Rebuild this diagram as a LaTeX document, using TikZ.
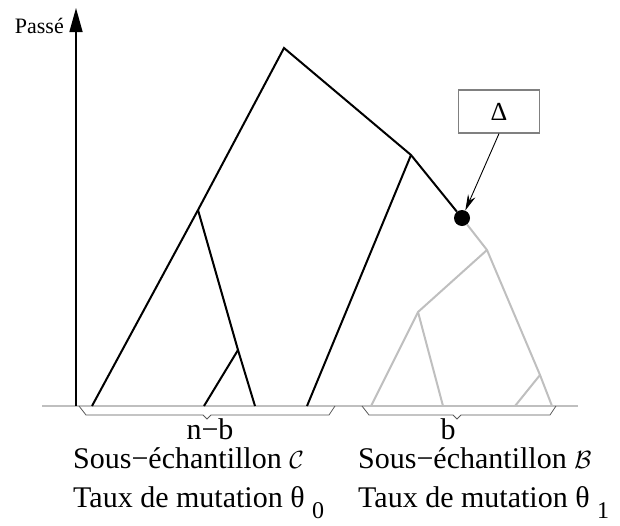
\documentclass[tikz,border=0pt]{standalone}
\usepackage{fontspec}
\setmainfont{Liberation Serif}
\usetikzlibrary{arrows.meta}
\newcommand{\bigtxt}{\fontsize{30}{30}\selectfont}
\newcommand{\rateidx}[1]{\raisebox{-11pt}{\fontsize{24}{24}\selectfont #1}}
\newcommand{\samplebrace}[3]{%
  \draw[sample] (#1,406) -- (#1+7,415) -- (#2-4,415) -- (#2,419)
    -- (#2+4,415) -- (#3-6,415) -- (#3,406);
}

\begin{document}
\begin{tikzpicture}[x=1pt,y=-1pt,
      every node/.style={inner sep=0pt},
      lineage/.style={line width=2pt},
      sublineage/.style={line width=2pt,draw=gray!50},
      sample/.style={draw=black!65,line width=0.8pt},
      caption/.style={font=\bigtxt,anchor=base west}
    ]
  \useasboundingbox (0,0) rectangle (620,525);

  % time axis and present
  \coordinate (now) at (76,406);
  \coordinate (past) at (76,8);
  \coordinate (gl) at (42,406);
  \coordinate (gr) at (578,406);
  \draw[gray!50,line width=1.5pt] (gl) -- (gr);
  \draw[line width=1.5pt,-{Triangle[length=24pt,width=13pt]}] (now) -- (past);
  \node[font=\fontsize{22}{22}\selectfont,anchor=base east] (passe) at (64,33) {Passé};

  % sampled sequences
  \foreach \n/\x in {l1/92,l2/204,l3/255,l4/307,l5/371,l6/443,l7/515,l8/552}
    \coordinate (\n) at (\x,406);

  % coalescence events
  \coordinate (root) at (284,48);
  \coordinate (n1) at (198,210);
  \coordinate (n2) at (238,350);
  \coordinate (n3) at (411,155);
  \coordinate (n4) at (487,250);
  \coordinate (n5) at (418,312);
  \coordinate (n6) at (540,375);
  \node[circle,fill,minimum size=16pt] (mut) at (462,218) {};

  % genealogy of sub-sample C
  \draw[lineage] (l1) -- (n1) -- (root) -- (n3) -- (mut);
  \draw[lineage] (n1) -- (n2) -- (l3);
  \draw[lineage] (n2) -- (l2);
  \draw[lineage] (n3) -- (l4);

  % genealogy of sub-sample B, below the change
  \draw[sublineage] (mut) -- (n4) -- (n6) -- (l8);
  \draw[sublineage] (n4) -- (n5) -- (l5);
  \draw[sublineage] (n5) -- (l6);
  \draw[sublineage] (n6) -- (l7);

  % change of mutation rate
  \node[draw=gray,line width=1.2pt,minimum width=81pt,minimum height=43pt,
        font=\fontsize{26}{26}\selectfont] (delta) at (499,111.5) {\raisebox{-6pt}{Δ}};
  \draw[line width=0.9pt,-{Stealth[length=16pt,width=8pt]}] (delta.south) -- (mut);

  % the two sub-samples
  \samplebrace{79}{207}{335}
  \samplebrace{362}{457}{556}

  \node[font=\bigtxt,anchor=base] (nb) at (210,439) {n−b};
  \node[caption] (sousC) at (73,468) {Sous−échantillon $\mathcal{C}$};
  \node[caption] (tauxC) at (73,507) {Taux de mutation θ \rateidx{0}};
  \node[font=\bigtxt,anchor=base] (b) at (448,439) {b};
  \node[caption] (sousB) at (358,468) {Sous−échantillon $\mathcal{B}$};
  \node[caption] (tauxB) at (358,507) {Taux de mutation θ \rateidx{1}};
\end{tikzpicture}
\end{document}
